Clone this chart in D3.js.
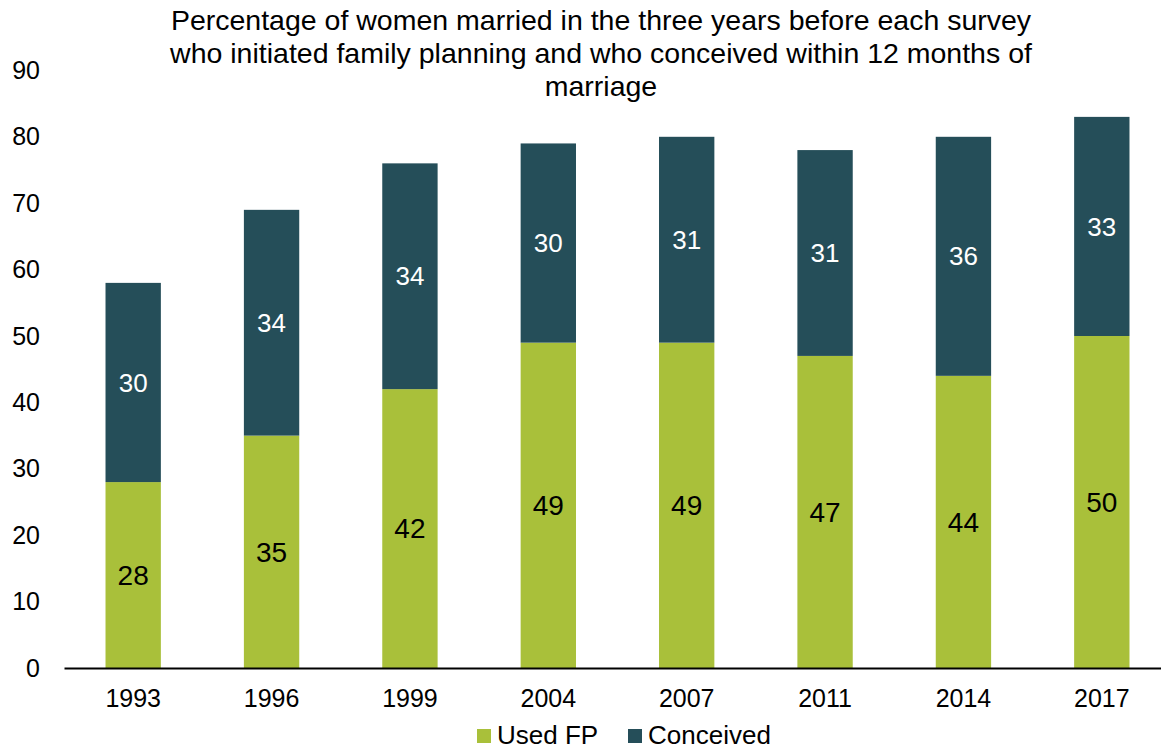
<!DOCTYPE html>
<html>
<head>
<meta charset="utf-8">
<script src="https://cdn.jsdelivr.net/npm/d3@7"></script>
<style>
  html, body { margin: 0; padding: 0; background: #fff; }
  svg { display: block; font-family: Arial, "Liberation Sans", sans-serif; }
</style>
</head>
<body>
<svg id="chart" width="1161" height="751"></svg>
<script>
const years = ["1993", "1996", "1999", "2004", "2007", "2011", "2014", "2017"];
const usedFP = [28, 35, 42, 49, 49, 47, 44, 50];
const conceived = [30, 34, 34, 30, 31, 31, 36, 33];
const seriesNames = ["Used FP", "Conceived"];
const seriesColors = ["#A9C03A", "#254E59"];
const yTicks = [0, 10, 20, 30, 40, 50, 60, 70, 80, 90];
const titleLines = [
  "Percentage of women married in the three years before each survey",
  "who initiated family planning and who conceived within 12 months of",
  "marriage"
];

const svg = d3.select("#chart");
const x = d3.scaleBand().domain(years).range([64, 1171]).paddingInner(0.6).paddingOuter(0.3);
const y = d3.scaleLinear().domain([0, 90]).range([668, 70.4]);

const rows = years.map((yr, i) => ({ year: yr, fp: usedFP[i], con: conceived[i] }));
const stack = d3.stack().keys(["fp", "con"])(rows);

// bars
svg.append("g").selectAll("g").data(stack).join("g")
  .attr("fill", (d, i) => seriesColors[i])
  .selectAll("rect").data(d => d).join("rect")
  .attr("x", d => x(d.data.year))
  .attr("width", x.bandwidth())
  .attr("y", d => y(d[1]))
  .attr("height", d => y(d[0]) - y(d[1]));

// labels
stack.forEach((s, si) => {
  svg.append("g").selectAll("text").data(s).join("text")
    .attr("x", d => x(d.data.year) + x.bandwidth() / 2)
    .attr("y", d => y((d[0] + d[1]) / 2))
    .attr("dy", "0.35em")
    .attr("text-anchor", "middle")
    .attr("font-size", si === 0 ? 28 : 26)
    .attr("fill", si === 0 ? "#000" : "#fff")
    .text(d => d[1] - d[0]);
});

// y axis (labels only)
const yAxis = d3.axisLeft(y).tickValues(yTicks).tickSize(0).tickPadding(0);
const gy = svg.append("g").attr("transform", "translate(40,0)").call(yAxis);
gy.select(".domain").remove();
gy.selectAll("text").attr("font-size", 25).attr("fill", "#000").attr("font-family", "Arial, 'Liberation Sans', sans-serif");

// x axis
const xAxis = d3.axisBottom(x).tickSize(0).tickPadding(21);
const gx = svg.append("g").attr("transform", "translate(0,668)").call(xAxis);
gx.select(".domain").attr("stroke", "#000").attr("stroke-width", 2);
gx.selectAll("text").attr("font-size", 25).attr("fill", "#000").attr("font-family", "Arial, 'Liberation Sans', sans-serif");

// title
svg.append("g").selectAll("text").data(titleLines).join("text")
  .attr("x", 601)
  .attr("y", (d, i) => 30 + i * 33)
  .attr("text-anchor", "middle")
  .attr("font-size", 28.5)
  .attr("fill", "#000")
  .text(d => d);

// legend
const legendX = [477, 628];
const lg = svg.append("g").selectAll("g").data(seriesNames).join("g")
  .attr("transform", (d, i) => `translate(${legendX[i]},729)`);
lg.append("rect").attr("width", 14).attr("height", 14).attr("fill", (d, i) => seriesColors[i]);
lg.append("text").attr("x", 20).attr("y", 15)
  .attr("font-size", 26).attr("fill", "#000").text(d => d);
</script>
</body>
</html>
